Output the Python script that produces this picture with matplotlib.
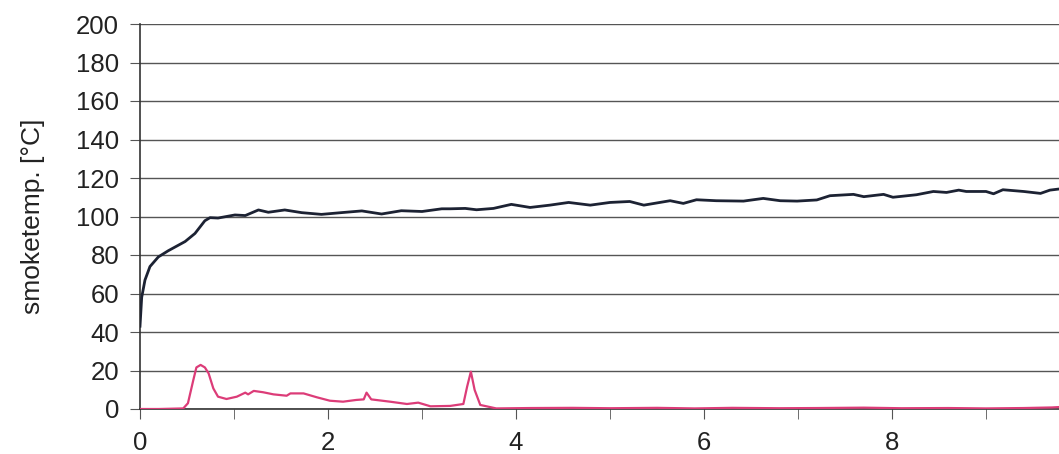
import matplotlib
matplotlib.use("Agg")
import matplotlib.pyplot as plt

plt.rcParams.update({
    "font.family": ["Liberation Sans", "DejaVu Sans"],
    "figure.facecolor": "#ffffff",
    "axes.facecolor": "#ffffff",
})

# smoke temperature (dark line)
t_smoke = [0.0, 0.018, 0.053, 0.106, 0.195, 0.30, 0.48, 0.585, 0.69, 0.745,
           0.83, 1.01, 1.12, 1.26, 1.365, 1.54, 1.72, 1.93, 2.14, 2.36,
           2.57, 2.78, 3.0, 3.21, 3.30, 3.46, 3.58, 3.76, 3.95, 4.15,
           4.36, 4.56, 4.79, 5.0, 5.21, 5.36, 5.64, 5.78, 5.92, 6.13,
           6.42, 6.63, 6.81, 6.99, 7.20, 7.34, 7.59, 7.70, 7.91, 8.01,
           8.26, 8.44, 8.58, 8.71, 8.79, 9.0, 9.08, 9.18, 9.40, 9.58,
           9.68, 9.78, 9.85]
smoke = [43, 58, 67, 74, 79, 82.2, 87, 91.2, 97.8, 99.4,
         99.2, 100.8, 100.5, 103.4, 102.2, 103.4, 102.0, 101.1, 102.0, 102.9,
         101.3, 103.0, 102.6, 104.0, 104.0, 104.2, 103.5, 104.2, 106.3, 104.7,
         105.9, 107.3, 105.9, 107.3, 107.8, 105.9, 108.2, 106.8, 108.7, 108.2,
         108.0, 109.4, 108.2, 108.0, 108.6, 110.8, 111.5, 110.3, 111.5, 110.0,
         111.3, 113.0, 112.5, 113.7, 113.0, 113.0, 111.8, 113.9, 113.0, 112.0,
         113.7, 114.3, 114.3]

# second series (pink line)
t_pink = [0.0, 0.2, 0.46, 0.51, 0.567, 0.60, 0.645, 0.69, 0.73, 0.78,
          0.83, 0.92, 1.03, 1.12, 1.15, 1.21, 1.31, 1.42, 1.56, 1.60,
          1.74, 1.88, 2.02, 2.16, 2.30, 2.38, 2.41, 2.46, 2.66, 2.84,
          2.96, 3.09, 3.30, 3.44, 3.48, 3.52, 3.56, 3.62, 3.79, 4.15,
          4.6, 5.0, 5.5, 5.9, 6.3, 6.8, 7.2, 7.7, 8.1, 8.6,
          9.0, 9.4, 9.7, 9.85]
pink = [0.0, 0.0, 0.3, 3.0, 15.0, 21.6, 22.9, 21.6, 18.5, 10.7,
        6.4, 5.2, 6.4, 8.5, 7.6, 9.4, 8.7, 7.6, 6.9, 8.1,
        8.1, 6.1, 4.3, 3.8, 4.7, 5.0, 8.5, 5.0, 3.8, 2.6,
        3.3, 1.4, 1.6, 2.6, 11.6, 19.4, 9.9, 2.1, 0.3, 0.5,
        0.6, 0.4, 0.6, 0.3, 0.6, 0.4, 0.5, 0.7, 0.4, 0.5,
        0.3, 0.5, 0.8, 1.2]

y_ticks = list(range(0, 201, 20))
x_ticks = [0, 2, 4, 6, 8]

fig = plt.figure(figsize=(10.59, 4.54), dpi=100)
# plot area runs off the right edge of the picture
ax = fig.add_axes([140 / 1059, 1 - 409 / 454, 940 / 1059, 385 / 454])

ax.plot(t_smoke, smoke, color="#1c2233", lw=2.0, zorder=3)
ax.plot(t_pink, pink, color="#dc3c78", lw=1.6, zorder=3)

ax.set_xlim(0, 10)
ax.set_ylim(0, 200)
ax.set_yticks(y_ticks)
ax.set_xticks(x_ticks)
ax.set_xticks(range(0, 11), minor=True)
ax.yaxis.grid(True, color="#555555", lw=1.0)
ax.set_axisbelow(True)

for s in ("top", "right"):
    ax.spines[s].set_visible(False)
for s in ("left", "bottom"):
    ax.spines[s].set_color("#333333")
    ax.spines[s].set_linewidth(1.2)

ax.tick_params(axis="both", which="both", direction="out", length=7,
               color="#555555", labelsize=18.5, labelcolor="#222222")
ax.tick_params(axis="y", pad=8)
ax.tick_params(axis="x", pad=9)
ax.set_ylabel("smoketemp. [°C]", fontsize=19, color="#222222", labelpad=22)

fig.savefig("out.png", dpi=100)
